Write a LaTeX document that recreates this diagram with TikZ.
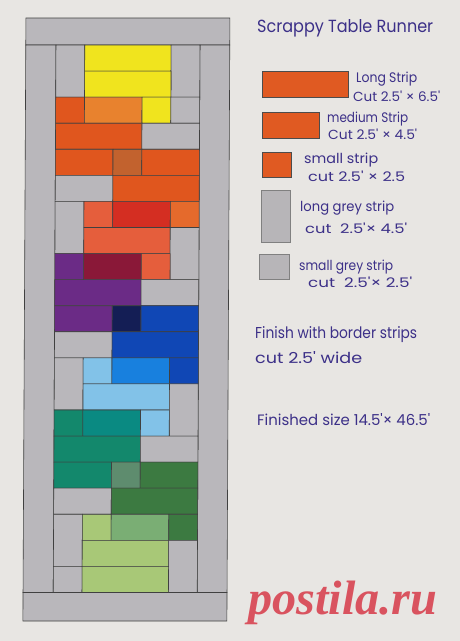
\documentclass[tikz,border=0pt]{standalone}
\usepackage{fontspec}
\usepackage{graphicx}
\newfontfamily\hand{Poppins}
\newfontfamily\wmfont{Liberation Serif}
\definecolor{paper}{HTML}{E8E6E3}
\definecolor{qgray}{HTML}{B9B7BB}
\definecolor{ink}{HTML}{3C3088}
\definecolor{qyel}{HTML}{F0E41E}
\definecolor{qorl}{HTML}{E8822E}
\definecolor{qro}{HTML}{E0561E}
\definecolor{qbrown}{HTML}{C2622E}
\definecolor{qsal}{HTML}{E55E3C}
\definecolor{qred}{HTML}{D42E22}
\definecolor{qor}{HTML}{E56A2C}
\definecolor{qpur}{HTML}{6B2B86}
\definecolor{qmar}{HTML}{8A1838}
\definecolor{qnavy}{HTML}{141E55}
\definecolor{qblue}{HTML}{1047B5}
\definecolor{qlb}{HTML}{82C2E8}
\definecolor{qbb}{HTML}{1880DE}
\definecolor{qtg}{HTML}{13886C}
\definecolor{qteal}{HTML}{0A8A82}
\definecolor{qgg}{HTML}{5E8C6E}
\definecolor{qdg}{HTML}{3C7A41}
\definecolor{qlg}{HTML}{A8C877}
\definecolor{qmg}{HTML}{7AAE74}
\definecolor{legor}{HTML}{E05A22}
\definecolor{leggray}{HTML}{B7B5B8}
\definecolor{wmred}{HTML}{D9535F}
\tikzset{
  piece/.style={draw=black!75,line width=0.6pt},
  legbox/.style={line width=0.8pt},
  txt/.style={anchor=base west,inner sep=0pt,text=ink}
}
\newcommand\pc[5]{\filldraw[piece,fill=#5] ({56.2+28.8*#1},{45+26.07*#3}) rectangle ({56.2+28.8*#2},{45+26.07*#4});}
\newcommand\hw[3]{\resizebox{#1pt}{#2pt}{\hand #3}}
\begin{document}
\begin{tikzpicture}[x=1pt,y=-1pt]
\useasboundingbox (0,0) rectangle (460,641);
\fill[paper] (0,0) rectangle (460,641);
\begin{scope}[xslant=0.005]
% borders
\filldraw[piece,fill=qgray] (26,18) rectangle (230,45);
\filldraw[piece,fill=qgray] (26,45) rectangle (56.2,592.5);
\filldraw[piece,fill=qgray] (200.2,45) rectangle (230,592.5);
\filldraw[piece,fill=qgray] (26,592.5) rectangle (230,621);
% rows 0-1
\pc{0}{1}{0}{2}{qgray}\pc{1}{4}{0}{1}{qyel}\pc{4}{5}{0}{2}{qgray}
\pc{1}{4}{1}{2}{qyel}
% row 2
\pc{0}{1}{2}{3}{qro}\pc{1}{3}{2}{3}{qorl}\pc{3}{4}{2}{3}{qyel}\pc{4}{5}{2}{3}{qgray}
% row 3
\pc{0}{3}{3}{4}{qro}\pc{3}{5}{3}{4}{qgray}
% row 4
\pc{0}{2}{4}{5}{qro}\pc{2}{3}{4}{5}{qbrown}\pc{3}{5}{4}{5}{qro}
% row 5
\pc{0}{2}{5}{6}{qgray}\pc{2}{5}{5}{6}{qro}
% row 6
\pc{0}{1}{6}{8}{qgray}\pc{1}{2}{6}{7}{qsal}\pc{2}{4}{6}{7}{qred}\pc{4}{5}{6}{7}{qor}
% row 7
\pc{1}{4}{7}{8}{qsal}\pc{4}{5}{7}{9}{qgray}
% row 8
\pc{0}{1}{8}{9}{qpur}\pc{1}{3}{8}{9}{qmar}\pc{3}{4}{8}{9}{qsal}
% row 9
\pc{0}{3}{9}{10}{qpur}\pc{3}{5}{9}{10}{qgray}
% row 10
\pc{0}{2}{10}{11}{qpur}\pc{2}{3}{10}{11}{qnavy}\pc{3}{5}{10}{11}{qblue}
% row 11
\pc{0}{2}{11}{12}{qgray}\pc{2}{5}{11}{12}{qblue}
% row 12
\pc{0}{1}{12}{14}{qgray}\pc{1}{2}{12}{13}{qlb}\pc{2}{4}{12}{13}{qbb}\pc{4}{5}{12}{13}{qblue}
% row 13
\pc{1}{4}{13}{14}{qlb}\pc{4}{5}{13}{15}{qgray}
% row 14
\pc{0}{1}{14}{15}{qtg}\pc{1}{3}{14}{15}{qteal}\pc{3}{4}{14}{15}{qlb}
% row 15
\pc{0}{3}{15}{16}{qtg}\pc{3}{5}{15}{16}{qgray}
% row 16
\pc{0}{2}{16}{17}{qtg}\pc{2}{3}{16}{17}{qgg}\pc{3}{5}{16}{17}{qdg}
% row 17
\pc{0}{2}{17}{18}{qgray}\pc{2}{5}{17}{18}{qdg}
% row 18
\pc{0}{1}{18}{20}{qgray}\pc{1}{2}{18}{19}{qlg}\pc{2}{4}{18}{19}{qmg}\pc{4}{5}{18}{19}{qdg}
% row 19
\pc{1}{4}{19}{20}{qlg}\pc{4}{5}{19}{21}{qgray}
% row 20
\pc{0}{1}{20}{21}{qgray}\pc{1}{4}{20}{21}{qlg}
\end{scope}
% legend boxes
\filldraw[legbox,fill=legor,draw=black!70] (262,71) rectangle (348,97);
\filldraw[legbox,fill=legor,draw=black!70] (262,112) rectangle (319,138);
\filldraw[legbox,fill=legor,draw=black!70] (262,152) rectangle (291,177);
\filldraw[legbox,fill=leggray,draw=black!50] (261,190) rectangle (290,242);
\filldraw[legbox,fill=leggray,draw=black!50] (259.5,254) rectangle (289.5,279);
% texts
\node[txt] (title) at (257,32) {\hw{176}{13}{Scrappy Table Runner}};
\node[txt] (l1a) at (356,82) {\hw{61}{10.5}{Long Strip}};
\node[txt] (l1b) at (353,101) {\hw{87}{10.5}{Cut 2.5' × 6.5'}};
\node[txt] (l2a) at (327,122) {\hw{81}{10.5}{medium Strip}};
\node[txt] (l2b) at (328,139) {\hw{89}{10.5}{Cut 2.5' × 4.5'}};
\node[txt] (l3a) at (304,163) {\hw{74}{10.5}{small strip}};
\node[txt] (l3b) at (308,181) {\hw{97}{10.5}{cut 2.5' × 2.5}};
\node[txt] (l4a) at (300,211) {\hw{94}{10.5}{long grey strip}};
\node[txt] (l4b) at (305,233) {\hw{102}{10.5}{cut \ 2.5'× 4.5'}};
\node[txt] (l5a) at (299,270) {\hw{94}{10.5}{small grey strip}};
\node[txt] (l5b) at (308,287) {\hw{104}{10.5}{cut \ 2.5'× 2.5'}};
\node[txt] (fin1) at (255,338) {\hw{162}{12}{Finish with border strips}};
\node[txt] (fin2) at (255,363) {\hw{107}{12}{cut 2.5' wide}};
\node[txt] (size) at (257,425) {\hw{173}{12}{Finished size 14.5'× 46.5'}};
\node[anchor=west,inner sep=0pt,text=wmred] (wm) at (248,603) {\resizebox{189pt}{!}{\wmfont\bfseries\itshape postila.ru}};
\end{tikzpicture}
\end{document}
